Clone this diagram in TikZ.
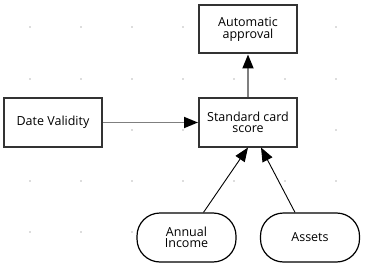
\documentclass[tikz,border=0pt]{standalone}
\usepackage{fontspec}
\setmainfont{Open Sans}
\usepackage{tikz}
\usetikzlibrary{arrows.meta,positioning,calc}
\definecolor{boxline}{HTML}{333333}
\definecolor{linkgray}{HTML}{7F7F7F}
\definecolor{dotgray}{HTML}{BBBBBB}

\begin{document}
\begin{tikzpicture}[x=1pt, y=1pt,
  rulebox/.style={draw=boxline, line width=2pt, fill=white, minimum width=98pt, minimum height=48pt, align=center, font=\fontsize{12.5}{11.5}\selectfont, inner sep=0pt},
  inputbox/.style={draw=black, line width=1.2pt, fill=white, rounded corners=23pt, minimum width=99pt, minimum height=49pt, align=center, font=\fontsize{12.5}{11.5}\selectfont, inner sep=0pt},
  flow/.style={draw=linkgray, line width=1.8pt, -{Triangle[length=14pt,width=11pt,color=black]}},
  feed/.style={draw=black, line width=0.9pt, -{Triangle[length=14pt,width=11pt]}}]
\useasboundingbox (0,0) rectangle (366,268);
% grid of dots
\foreach \gx in {30,81,132,183,234,285,336}
  \foreach \gy in {241,189,138,87,36}
    \fill[dotgray] (\gx,\gy) circle (0.8pt);
% nodes
\node[rulebox] (approval) at (248,238.5) {Automatic\\approval};
\node[rulebox] (score) at (248,145.5) {Standard card\\score};
\node[rulebox] (validity) at (53,145.5) {Date Validity};
\node[inputbox] (income) at (186.5,30.5) {Annual\\Income};
\node[inputbox] (assets) at (310,30.5) {Assets};
% connectors
\draw[flow] (score) -- (approval);
\draw[flow] (validity) -- (score);
\draw[feed] ([xshift=17pt]income.north) -- (score.south);
\draw[feed] ([xshift=-15pt]assets.north) -- ([xshift=13pt]score.south);
\end{tikzpicture}
\end{document}
